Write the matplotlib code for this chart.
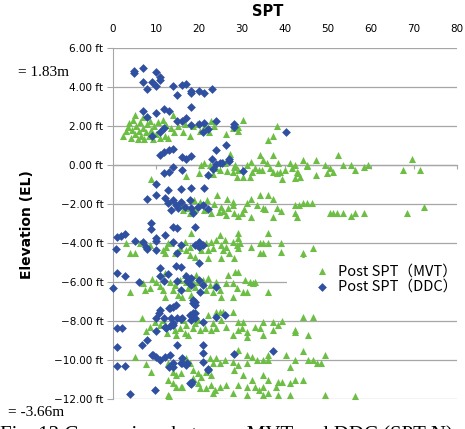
import numpy as np
import matplotlib.pyplot as plt
from matplotlib.ticker import FuncFormatter

# (SPT, elevation ft)
mvt_el2 = [(2.3, 1.49), (3.0, 1.74), (3.5, 1.95), (3.8, 2.15), (4.2, 1.38), (4.4, 1.80), (4.7, 2.31),
           (5.1, 2.56), (5.1, 1.59), (5.4, 2.0), (5.7, 1.33), (6.0, 1.74), (6.3, 2.21), (6.6, 1.49),
           (6.9, 1.90), (7.0, 2.46), (7.3, 1.33), (7.6, 1.69), (8.0, 2.10), (8.3, 1.49), (8.6, 2.26),
           (8.8, 1.80), (9.2, 1.33), (9.6, 2.0), (10.0, 1.59), (10.4, 2.21), (10.9, 1.38), (11.3, 1.90),
           (11.6, 2.31), (12.0, 1.49), (12.4, 2.05), (12.9, 1.38), (13.4, 1.90), (14.0, 2.56), (14.3, 1.69),
           (15.2, 2.0), (16.3, 1.69), (16.8, 2.10), (17.8, 1.49), (18.5, 2.0), (19.5, 2.10), (20.3, 1.74),
           (21.5, 2.05), (22.4, 1.69), (22.8, 2.26), (23.5, 2.0), (26.2, 1.59), (29.1, 1.95), (29.1, 1.74),
           (30.2, 2.31), (36.0, 1.28), (37.2, 1.49), (38.1, 2.0), (28.0, 1.90), (8.8, -0.72), (17.0, -0.56)]
mvt_el0 = [(20.5, 0.0), (21.2, 0.10), (20.0, -0.41), (22.1, -0.46), (23.3, -0.46), (24.9, -0.26), (25.6, 0.15),
           (26.5, -0.31), (27.2, 0.56), (28.1, -0.10), (28.8, -0.62), (28.4, 0.0), (29.1, -0.26), (30.2, -0.62),
           (32.0, 0.15), (34.2, 0.51), (34.9, 0.26), (35.8, 0.10), (37.2, 0.51), (38.4, 0.10), (38.8, -0.36),
           (39.3, -0.72), (40.0, -0.26), (41.2, 0.10), (41.6, -0.15), (42.3, -0.67), (43.0, -0.41), (44.2, 0.26),
           (45.1, 0.0), (47.2, 0.26), (47.2, -0.51), (49.3, 0.0), (49.8, -0.41), (50.5, -0.15), (51.2, -0.36),
           (52.3, 0.51), (53.5, 0.0), (31.9, -0.62), (32.3, -0.36), (34.7, -0.26), (36.5, -0.15), (38.1, -0.41),
           (55.3, 0.0), (56.3, -0.26), (58.4, -0.10), (59.3, 0.0), (67.4, -0.26), (69.5, 0.31), (71.4, -0.26),
           (45.1, -0.05), (42.3, 0.0), (42.8, -0.36), (43.5, -0.62), (37.2, -0.36), (34.0, -0.26), (22.6, 0.0),
           (24.0, -0.15), (26.0, 0.10), (31.2, 0.0), (33.0, -0.15), (27.9, -0.36)]
mvt_elm2 = [(16.3, -1.95), (17.0, -2.21), (17.9, -2.46), (18.8, -1.79), (20.2, -1.90), (21.2, -2.31), (21.9, -1.79),
            (22.8, -2.46), (24.2, -1.54), (25.0, -2.15), (26.5, -1.74), (27.9, -1.90), (28.1, -2.46), (29.1, -2.62),
            (30.5, -2.26), (31.2, -1.95), (32.1, -1.74), (32.1, -2.67), (34.2, -1.54), (34.9, -2.21), (36.0, -1.54),
            (35.3, -2.26), (37.2, -1.74), (38.1, -2.21), (37.2, -2.67), (42.3, -2.05), (43.3, -2.05), (44.2, -1.95),
            (45.1, -1.95), (46.3, -1.95), (42.3, -2.46), (42.8, -2.67), (50.5, -2.46), (51.2, -2.46), (52.1, -2.46),
            (53.5, -2.46), (55.3, -2.62), (56.3, -2.46), (58.4, -2.46), (68.4, -2.46), (72.3, -2.15), (26.7, -2.2),
            (27.9, -2.05), (25.6, -2.36), (30.0, -2.46), (16.3, -2.31), (19.1, -2.26), (23.5, -2.0), (24.7, -2.40),
            (26.3, -2.56), (33.5, -2.05), (39.0, -2.36)]
mvt_elm4 = [(3.0, -4.0), (4.0, -4.51), (5.1, -4.51), (6.3, -4.0), (8.6, -4.10), (11.6, -4.36), (12.3, -4.21),
            (12.1, -4.51), (12.8, -4.0), (14.4, -4.51), (15.6, -4.26), (16.7, -3.95), (17.0, -4.36), (17.9, -4.21),
            (18.1, -3.49), (17.9, -4.62), (19.1, -4.72), (20.5, -4.36), (21.6, -4.0), (22.1, -4.36), (22.8, -3.95),
            (23.3, -4.26), (24.0, -3.85), (24.9, -3.59), (25.1, -4.10), (25.6, -4.36), (26.0, -3.85), (26.3, -4.21),
            (22.1, -4.77), (25.1, -4.77), (29.1, -3.49), (29.1, -3.74), (27.9, -3.95), (28.8, -4.10), (29.5, -4.0),
            (29.1, -4.26), (32.1, -4.21), (34.2, -4.0), (34.9, -4.0), (36.0, -4.0), (36.0, -3.49), (39.1, -4.0),
            (39.1, -4.46), (34.2, -4.51), (34.9, -4.51), (44.2, -4.51), (44.2, -4.77), (46.5, -4.26), (28.1, -4.77),
            (27.0, -4.51), (19.8, -3.95), (13.5, -4.0)]
mvt_elm6 = [(4.0, -6.51), (7.0, -6.05), (7.4, -6.41), (8.6, -6.31), (10.0, -6.0), (10.9, -6.21), (11.6, -6.41),
            (12.1, -6.77), (13.3, -6.0), (14.0, -6.41), (14.4, -6.15), (15.1, -6.67), (15.6, -5.90), (16.7, -5.64),
            (17.0, -6.0), (17.4, -6.31), (18.1, -6.67), (19.1, -6.26), (19.3, -5.64), (19.8, -6.0), (20.9, -5.90),
            (21.6, -6.41), (22.6, -6.15), (23.3, -6.51), (24.0, -6.0), (24.9, -6.41), (25.1, -6.77), (26.3, -6.05),
            (26.7, -5.64), (28.4, -5.49), (29.1, -5.49), (30.7, -5.90), (31.9, -6.0), (33.0, -6.0), (27.9, -6.05),
            (28.8, -6.31), (30.2, -6.51), (31.2, -6.51), (27.9, -6.77), (36.0, -6.51), (41.2, -6.26), (45.3, -6.26),
            (32.6, -6.05), (9.0, -5.85), (12.0, -5.55), (16.0, -6.77), (22.0, -5.80), (18.6, -6.0)]
mvt_elm8 = [(6.8, -7.85), (7.7, -8.51), (9.8, -8.05), (10.9, -8.21), (11.6, -7.95), (13.5, -8.21), (14.4, -8.46),
            (14.7, -8.72), (15.6, -8.36), (16.3, -7.95), (16.7, -8.62), (17.0, -8.21), (17.4, -8.72), (18.6, -8.36),
            (19.1, -8.10), (19.8, -7.95), (20.2, -8.46), (21.4, -8.36), (22.1, -7.69), (22.8, -8.46), (23.3, -8.10),
            (24.0, -8.36), (24.9, -7.54), (25.6, -7.54), (25.1, -7.95), (26.3, -8.31), (24.0, -7.54), (27.9, -7.54),
            (29.1, -8.05), (30.2, -8.05), (29.1, -8.46), (31.2, -8.56), (31.2, -8.82), (33.0, -8.31), (34.2, -8.36),
            (34.9, -8.05), (34.9, -8.72), (37.2, -8.05), (37.2, -8.46), (38.4, -8.21), (39.3, -8.0), (42.3, -8.46),
            (42.3, -8.56), (45.3, -8.72), (44.2, -7.79), (46.5, -7.79), (27.9, -8.72), (30.0, -8.36), (8.5, -8.3),
            (12.5, -8.6)]
mvt_elm10 = [(5.1, -9.85), (7.7, -10.21), (8.8, -10.62), (12.8, -10.15), (14.0, -10.62), (14.7, -10.77),
             (15.8, -10.67), (17.0, -9.90), (17.9, -10.15), (18.6, -10.51), (19.8, -10.67), (20.5, -10.87),
             (21.6, -10.62), (22.6, -9.90), (23.3, -10.15), (24.0, -9.90), (24.9, -10.15), (26.0, -10.0),
             (27.9, -10.10), (29.1, -9.49), (31.2, -9.74), (31.2, -10.15), (32.3, -9.85), (33.5, -10.0),
             (34.9, -10.0), (36.0, -9.74), (36.0, -10.0), (40.2, -9.74), (41.2, -10.36), (42.3, -10.0),
             (44.2, -9.54), (45.3, -10.0), (46.5, -10.0), (47.4, -10.15), (48.4, -10.15), (49.3, -9.74),
             (29.1, -10.26), (28.1, -10.51)]
mvt_elm12 = [(13.0, -11.85), (14.7, -11.38), (15.8, -11.38), (18.6, -10.92), (19.8, -11.18), (20.2, -11.44),
             (21.6, -11.44), (22.8, -10.77), (22.8, -11.28), (23.3, -11.69), (23.7, -11.54), (24.9, -11.38),
             (26.3, -11.28), (12.8, -11.79), (14.0, -11.18), (16.0, -11.38), (12.8, -11.0), (30.2, -10.77),
             (32.3, -11.03), (34.9, -10.77), (36.0, -11.03), (38.4, -11.13), (39.3, -11.13), (41.2, -11.18),
             (42.3, -11.03), (44.2, -11.03), (29.1, -11.28), (31.2, -11.38), (33.0, -11.38), (34.0, -11.54),
             (34.9, -11.38), (36.0, -11.69), (37.9, -11.38), (27.9, -11.69), (31.2, -11.8), (34.9, -11.8),
             (38.4, -11.8), (41.2, -11.8), (49.3, -11.79), (56.3, -11.85)]

ddc_upper = [(4.9, 4.82), (4.9, 4.72), (7.0, 4.97), (10.0, 4.77), (7.0, 4.26), (9.1, 4.26), (7.9, 3.90), (10.0, 4.05),
             (10.9, 4.36), (10.9, 4.51), (14.0, 4.05), (14.9, 3.59), (16.0, 4.10), (17.0, 4.15), (18.1, 3.79),
             (18.1, 3.69), (20.0, 3.79), (21.2, 3.69), (23.0, 3.90), (7.0, 2.77), (7.9, 2.46), (10.0, 2.67),
             (11.9, 2.87), (13.0, 2.77), (18.1, 2.97), (14.9, 2.26), (16.0, 2.26), (17.0, 2.41), (18.1, 2.05),
             (20.0, 2.10), (21.2, 2.15), (21.0, 1.69), (22.1, 1.85), (24.0, 2.26), (9.1, 1.49), (10.9, 1.69),
             (11.9, 1.90), (28.1, 2.10), (28.1, 1.95), (40.2, 1.69), (26.3, 1.03), (25.3, 0.10), (27.0, 0.31),
             (27.0, 0.20), (30.2, -0.31), (10.9, 0.51), (11.9, 0.67), (13.0, 0.77), (14.0, 0.82), (16.0, 0.41),
             (17.0, 0.31), (18.1, 0.46), (23.0, 0.31), (24.0, 0.77), (24.9, 0.10), (24.0, 0.05), (23.3, -0.21),
             (22.1, -0.51), (14.0, -0.10), (13.0, -0.36), (11.9, -0.41), (16.0, -0.26), (10.0, -0.97),
             (10.0, -1.54), (7.9, -1.74), (12.8, -1.28), (18.1, -1.18), (21.2, -1.18), (15.8, -1.23)]
ddc_middle = [(12.1, -1.69), (14.0, -1.79), (12.8, -1.95), (14.7, -2.05), (15.8, -1.90), (17.9, -1.79),
              (13.5, -2.31), (15.1, -2.21), (16.7, -2.15), (18.1, -2.21), (19.8, -2.15), (20.9, -2.05),
              (22.1, -2.26), (18.6, -2.46), (8.8, -2.97), (8.8, -3.28), (14.0, -3.18), (14.9, -3.23), (19.1, -3.18),
              (2.8, -3.54), (1.9, -3.64), (0.9, -3.69), (0.7, -4.31), (5.1, -3.90), (7.0, -3.95), (7.7, -4.21),
              (7.9, -4.31), (10.0, -3.74), (10.0, -3.90), (12.1, -3.59), (10.0, -4.36), (14.0, -3.95), (15.8, -4.10),
              (14.9, -4.51), (19.1, -4.10), (20.0, -3.95), (20.9, -4.10), (20.0, -4.21), (20.0, -5.03),
              (14.7, -5.18), (15.8, -5.23), (10.9, -5.28), (12.8, -5.59), (0.9, -5.54), (2.8, -5.69), (6.0, -6.0),
              (10.9, -5.69), (11.9, -5.95), (14.9, -5.95), (17.0, -5.69), (17.2, -5.95), (18.1, -5.79),
              (20.0, -5.90), (20.9, -6.15), (18.1, -6.15), (15.8, -6.41), (20.2, -6.51), (24.0, -6.26), (0.0, -6.31)]
ddc_lower = [(19.1, -7.03), (19.1, -7.18), (14.0, -7.28), (13.3, -7.33), (0.9, -9.33), (0.9, -8.36), (2.1, -8.36),
             (0.9, -10.31), (2.8, -10.31), (4.0, -11.74), (9.8, -11.54), (6.7, -9.23), (7.9, -8.97), (9.1, -9.74),
             (10.0, -8.51), (10.7, -7.59), (10.9, -7.44), (11.9, -7.85), (12.1, -8.31), (13.3, -8.26), (14.0, -8.10),
             (14.9, -7.85), (16.0, -7.85), (14.9, -9.23), (10.9, -10.0), (12.1, -9.85), (13.3, -9.74), (13.0, -10.36),
             (14.0, -10.15), (16.0, -9.90), (17.2, -10.15), (16.0, -10.15), (17.9, -11.18), (18.4, -11.13),
             (18.6, -6.92), (18.6, -7.08), (18.6, -7.59), (17.9, -7.69), (19.1, -7.85), (20.9, -8.05), (20.9, -9.23),
             (20.9, -9.64), (20.9, -10.10), (22.1, -10.46), (26.0, -7.69), (28.1, -9.69), (37.2, -9.54),
             (9.3, -9.74), (10.0, -9.85), (14.0, -10.36), (15.8, -10.15), (17.0, -10.26), (22.1, -10.51),
             (18.1, -11.23), (12.3, -8.36), (14.0, -8.21), (13.0, -7.33), (14.7, -7.18), (10.0, -7.85),
             (13.5, -7.85), (15.8, -7.90), (19.1, -7.59), (18.1, -7.95), (24.0, -7.79)]

x_ticks = [0, 10, 20, 30, 40, 50, 60, 70, 80]
y_ticks = [6, 4, 2, 0, -2, -4, -6, -8, -10, -12]

mvt = np.array(mvt_el2 + mvt_el0 + mvt_elm2 + mvt_elm4 + mvt_elm6 + mvt_elm8 + mvt_elm10 + mvt_elm12)
ddc = np.array(ddc_upper + ddc_middle + ddc_lower)

green = '#6DBE45'
blue = '#2F4FA0'
grey = '#A6A6A6'

fig = plt.figure(figsize=(4.65, 4.29), dpi=100)
ax = fig.add_axes([113 / 465, 30 / 429, 344 / 465, 351 / 429])

ax.scatter(mvt[:, 0], mvt[:, 1], marker='^', s=26, color=green, linewidths=0,
           label='Post SPT（MVT）', zorder=3, clip_on=False)
ax.scatter(ddc[:, 0], ddc[:, 1], marker='D', s=20, color=blue, linewidths=0,
           label='Post SPT（DDC）', zorder=4, clip_on=False)

ax.set_xlim(0, 80)
ax.set_ylim(-12, 6)
ax.set_xticks(x_ticks)
ax.set_yticks(y_ticks)
ax.yaxis.set_major_formatter(FuncFormatter(lambda v, p: f'{v:.2f} ft'.replace('-', '\u2212')))
ax.grid(axis='y', color=grey, lw=0.9, zorder=0)

for s in ['top', 'right']:
    ax.spines[s].set_visible(False)
ax.spines['left'].set_color(grey)
# x axis crosses at 0 ft, labels sit on top
ax.spines['bottom'].set_position(('data', 0))
ax.spines['bottom'].set_color(grey)
ax.spines['bottom'].set_linewidth(0.9)

ax.tick_params(axis='x', bottom=True, top=False, labelbottom=False, labeltop=True,
               length=3, color=grey, labelsize=7.5, pad=7)
ax.tick_params(axis='y', length=4, color=grey, labelsize=7.5, pad=3)

fig.text(268 / 465, 1 - 12 / 429, 'SPT', ha='center', va='center', fontsize=10.5, fontweight='bold')
fig.text(27 / 465, 1 - 225 / 429, 'Elevation (EL)', ha='center', va='center', rotation=90,
         fontsize=10, fontweight='bold')

# notes around the chart (scan of a paper page)
fig.text(18 / 465, 1 - 72 / 429, '= 1.83m', ha='left', va='center', family='Liberation Serif', fontsize=11)
fig.text(8 / 465, 1 - 413 / 429, '= -3.66m', ha='left', va='center', family='Liberation Serif', fontsize=11)
fig.text(0, 1 - 435 / 429, 'Fig. 13 Comparison between MVT and DDC (SPT-N)', ha='left', va='center',
         family='Liberation Serif', fontsize=15)

leg = ax.legend(loc='center left', bbox_to_anchor=(287 / 465, 1 - 279 / 429), bbox_transform=fig.transFigure,
                borderaxespad=0, handlelength=4, handletextpad=-0.9, labelspacing=0.1,
                prop={'family': ['Noto Sans CJK JP', 'DejaVu Sans'], 'size': 10.5},
                frameon=True, fancybox=False, edgecolor='none', framealpha=1)

fig.savefig('out.png', dpi=100)
